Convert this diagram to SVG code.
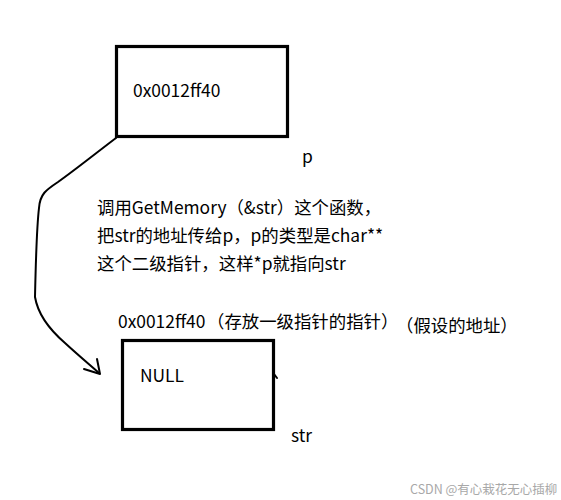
<svg xmlns="http://www.w3.org/2000/svg" width="561" height="500" viewBox="0 0 561 500">
<style>
.box{fill:#fff;stroke:#000;stroke-width:3.2}
.t{font-family:"Noto Sans CJK SC","Noto Sans",sans-serif;font-size:17.4px;fill:#000}
.wm{font-family:"Noto Sans CJK SC","Noto Sans",sans-serif;font-size:12.5px;fill:#a8a8a8}
.ln{fill:none;stroke:#000;stroke-width:2;stroke-linecap:round;stroke-linejoin:round}
</style>
<rect width="561" height="500" fill="#fff"/>
<g id="connectors">
<path class="ln" d="M116,138 C100,150 75,170 58,182 C46,190 40,194 39,208 C37,225 36,250 35,297 C38,315 50,330 65,343 C78,355 90,365 99,373"/>
<path class="ln" d="M84,369 L100,374 L97,359"/>
</g>
<g id="node-p">
<rect class="box" x="116.5" y="46.5" width="171" height="90"/>
<text class="t" x="133" y="97">0x0012ff40</text>
<text class="t" x="302" y="163">p</text>
</g>
<g id="note">
<text class="t" x="97" y="214">调用GetMemory（&amp;str）这个函数，</text>
<text class="t" x="97" y="242">把str的地址传给p，p的类型是char**</text>
<text class="t" x="97" y="270">这个二级指针，这样*p就指向str</text>
</g>
<g id="node-str">
<text class="t" x="118" y="328">0x0012ff40</text>
<text class="t" x="207" y="328">（存放一级指针的指针）</text>
<text class="t" x="396" y="332">（假设的地址）</text>
<rect class="box" x="122.5" y="340.5" width="151" height="89"/>
<text class="t" x="140" y="382">NULL</text>
<path class="ln" d="M274,374 L277,378" stroke-width="2.5"/>
<text class="t" x="291" y="442">str</text>
</g>
<text class="wm" x="410" y="494">CSDN @有心栽花无心插柳</text>
</svg>
